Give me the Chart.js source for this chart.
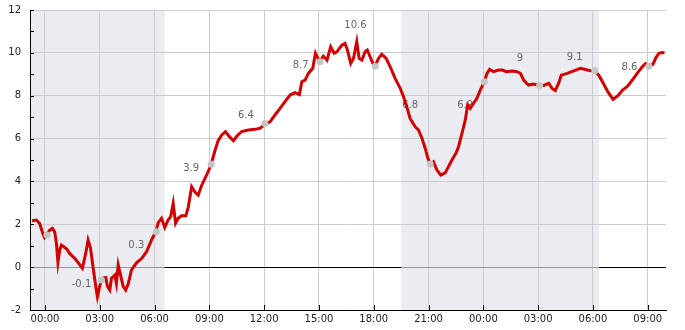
<!DOCTYPE html>
<html>
<head>
<meta charset="utf-8">
<script src="https://cdn.jsdelivr.net/npm/chart.js@4"></script>
<style>
  html, body { margin: 0; padding: 0; background: #fff; }
  #c { display: block; }
</style>
</head>
<body>
<canvas id="c" width="685" height="330"></canvas>
<script>
// hours since 00:00 of first day, temperature in °C
const hours = [
  -0.71, -0.47, -0.29, -0.11, -0.02, 0.08, 0.26, 0.41, 0.53, 0.63, 0.71, 0.81, 0.90, 1.03, 1.19, 1.35,
  1.63, 1.90, 2.05, 2.23, 2.36, 2.49, 2.63, 2.78, 2.87, 3.00, 3.09, 3.22, 3.33, 3.42, 3.55, 3.64,
  3.73, 3.82, 3.91, 4.01, 4.12, 4.28, 4.42, 4.55, 4.74, 5.01, 5.29, 5.56, 5.83, 6.07, 6.20, 6.38,
  6.56, 6.74, 6.88, 7.02, 7.15, 7.29, 7.48, 7.71, 7.84, 8.03, 8.21, 8.39, 8.57, 8.85, 9.08, 9.30,
  9.48, 9.67, 9.88, 10.10, 10.32, 10.51, 10.77, 11.13, 11.50, 11.77, 12.04, 12.32, 12.59, 12.87, 13.14, 13.42,
  13.69, 13.93, 14.06, 14.24, 14.42, 14.66, 14.81, 14.95, 15.06, 15.24, 15.44, 15.64, 15.83, 15.98, 16.25, 16.43,
  16.56, 16.74, 16.89, 17.07, 17.20, 17.35, 17.53, 17.65, 17.80, 17.95, 18.08, 18.26, 18.44, 18.68, 18.90, 19.17,
  19.45, 19.63, 19.81, 19.99, 20.27, 20.45, 20.64, 20.82, 20.94, 21.09, 21.27, 21.46, 21.67, 21.91, 22.09, 22.28,
  22.52, 22.64, 22.83, 23.01, 23.14, 23.28, 23.46, 23.65, 23.83, 24.05, 24.20, 24.34, 24.56, 24.84, 25.04, 25.26,
  25.57, 25.84, 26.03, 26.21, 26.35, 26.48, 26.75, 27.08, 27.30, 27.58, 27.76, 27.94, 28.13, 28.27, 28.59, 28.95,
  29.31, 29.59, 29.86, 30.10, 30.32, 30.59, 30.82, 31.10, 31.37, 31.62, 31.87, 32.15, 32.42, 32.70, 32.88, 33.06,
  33.29, 33.45, 33.61, 33.79, 33.92
];
const temps = [
  2.17, 2.2, 2.04, 1.55, 1.38, 1.5, 1.73, 1.81, 1.65, 1.1, 0.22, 0.8, 1.03, 0.95, 0.85, 0.64,
  0.41, 0.12, -0.05, 0.64, 1.26, 0.9, 0.02, -0.9, -1.38, -0.87, -0.6, -0.5, -0.48, -0.9, -1.07, -0.52,
  -0.45, -0.37, -0.76, 0.1, -0.3, -0.9, -1.07, -0.8, -0.13, 0.2, 0.4, 0.72, 1.26, 1.65, 2.08, 2.28,
  1.85, 2.2, 2.35, 2.98, 2.05, 2.28, 2.4, 2.4, 2.78, 3.75, 3.5, 3.36, 3.8, 4.3, 4.75, 5.42,
  5.9, 6.16, 6.32, 6.09, 5.9, 6.12, 6.33, 6.4, 6.43, 6.48, 6.65, 6.78, 7.1, 7.41, 7.72, 8.03,
  8.14, 8.05, 8.65, 8.73, 9.04, 9.28, 9.98, 9.74, 9.62, 9.85, 9.66, 10.28, 9.98, 10.05, 10.36, 10.44,
  10.13, 9.51, 9.74, 10.52, 9.74, 9.66, 10.05, 10.13, 9.82, 9.51, 9.4, 9.74, 9.94, 9.74, 9.35, 8.81,
  8.34, 7.95, 7.48, 6.94, 6.55, 6.4, 6.01, 5.54, 5.15, 4.81, 4.92, 4.53, 4.3, 4.4, 4.69, 5.0,
  5.35, 5.62, 6.24, 6.86, 7.56, 7.41, 7.64, 7.88, 8.26, 8.65, 9.04, 9.23, 9.12, 9.2, 9.2, 9.12,
  9.15, 9.12, 9.04, 8.73, 8.6, 8.5, 8.55, 8.48, 8.48, 8.58, 8.34, 8.24, 8.6, 8.96, 9.04, 9.16,
  9.28, 9.22, 9.17, 9.16, 8.96, 8.55, 8.18, 7.83, 8.0, 8.26, 8.42, 8.72, 9.04, 9.35, 9.5, 9.4,
  9.47, 9.78, 9.98, 10.02, 10.0
];

// 3-hourly marker points
const markHours = [0.11, 3.09, 6.09, 9.10, 12.04, 15.06, 18.08, 21.09, 24.05, 27.08, 30.10, 33.06];
const markTemps = [1.5, -0.6, 1.65, 4.8, 6.7, 9.58, 9.38, 4.81, 8.65, 8.48, 9.16, 9.38];

// forecast labels
const labelHours = [2, 5, 8, 11, 14, 17, 20, 23, 26, 29, 32];
const labelTemps = [-0.8, 1.03, 4.6, 7.1, 9.4, 11.3, 7.55, 7.55, 9.75, 9.8, 9.33];
const labelTexts = ['-0.1', '0.3', '3.9', '6.4', '8.7', '10.6', '6.8', '6.9', '9', '9.1', '8.6'];

// darkness periods (hours)
const nightFrom = [-1, 19.5];
const nightTo = [6.55, 30.34];

const xTicks = [0, 3, 6, 9, 12, 15, 18, 21, 24, 27, 30, 33];

const decor = {
  id: 'decor',
  beforeDraw(chart) {
    const { ctx, chartArea: a, scales: { x } } = chart;
    ctx.save();
    ctx.fillStyle = '#ebecf2';
    for (let i = 0; i < nightFrom.length; i++) {
      const l = Math.max(a.left, x.getPixelForValue(nightFrom[i]));
      const r = Math.min(a.right, x.getPixelForValue(nightTo[i]));
      ctx.fillRect(l, a.top, r - l, a.bottom - a.top);
    }
    ctx.restore();
  },
  beforeDatasetsDraw(chart) {
    const { ctx, chartArea: a, scales: { x, y } } = chart;
    ctx.save();
    // zero line, black outside the night bands
    const y0 = Math.round(y.getPixelForValue(0)) + 0.5;
    ctx.strokeStyle = '#000';
    ctx.lineWidth = 1;
    let start = a.left;
    const segs = [];
    for (let i = 0; i < nightFrom.length; i++) {
      const l = Math.max(a.left, x.getPixelForValue(nightFrom[i]));
      const r = Math.min(a.right, x.getPixelForValue(nightTo[i]));
      if (l > start) segs.push([start, l]);
      start = r;
    }
    if (start < a.right) segs.push([start, a.right]);
    ctx.beginPath();
    segs.forEach(s => { ctx.moveTo(s[0], y0); ctx.lineTo(s[1], y0); });
    ctx.stroke();

    // inward tick marks
    ctx.beginPath();
    for (let v = -2; v <= 12; v++) {
      const py = Math.round(y.getPixelForValue(v)) + 0.5;
      ctx.moveTo(a.left, py);
      ctx.lineTo(a.left + 4, py);
    }
    xTicks.forEach(t => {
      const px = Math.round(x.getPixelForValue(t)) + 0.5;
      ctx.moveTo(px, a.bottom);
      ctx.lineTo(px, a.bottom - 5);
    });
    ctx.stroke();

    // labels
    ctx.fillStyle = '#666';
    ctx.font = '10px "DejaVu Sans"';
    ctx.textAlign = 'center';
    ctx.textBaseline = 'middle';
    labelTexts.forEach((t, i) => {
      ctx.fillText(t, x.getPixelForValue(labelHours[i]), y.getPixelForValue(labelTemps[i]));
    });
    ctx.restore();
  }
};

Chart.defaults.font.family = '"DejaVu Sans", sans-serif';
Chart.defaults.font.size = 10;
Chart.defaults.color = '#222';

new Chart(document.getElementById('c'), {
  type: 'line',
  data: {
    datasets: [
      {
        data: markHours.map((h, i) => ({ x: h, y: markTemps[i] })),
        showLine: false,
        pointRadius: 3.5,
        pointBackgroundColor: '#c4c4c4',
        pointBorderWidth: 0,
        order: 0
      },
      {
        data: hours.map((h, i) => ({ x: h, y: temps[i] })),
        borderColor: '#d00000',
        borderWidth: 3,
        pointRadius: 0,
        tension: 0,
        order: 1
      }
    ]
  },
  options: {
    responsive: false,
    animation: false,
    layout: { padding: { top: 10, right: 19, left: 0, bottom: 0 } },
    plugins: { legend: { display: false }, tooltip: { enabled: false } },
    scales: {
      x: {
        type: 'linear',
        min: -0.82,
        max: 34.0,
        afterBuildTicks: s => { s.ticks = xTicks.map(v => ({ value: v })); },
        afterFit: s => { s.height = 20; s.paddingLeft = 0; s.paddingRight = 0; },
        ticks: {
          padding: 3,
          maxRotation: 0,
          callback: v => String(v % 24).padStart(2, '0') + ':00'
        },
        grid: { color: '#cccccc', drawTicks: false },
        border: { color: '#000', width: 1 }
      },
      y: {
        min: -2,
        max: 12,
        afterFit: s => { s.width = 30; s.paddingTop = 0; s.paddingBottom = 0; },
        ticks: {
          stepSize: 1,
          padding: 9,
          callback: v => (v % 2 === 0 ? String(v) : '')
        },
        grid: {
          drawTicks: false,
          color: c => {
            const v = c.tick && c.tick.value;
            if (v === 0) return '#999999';
            return Math.abs(v) % 2 === 1 ? 'rgba(0,0,0,0)' : '#cccccc';
          }
        },
        border: { color: '#000', width: 1 }
      }
    }
  },
  plugins: [decor]
});
</script>
</body>
</html>
